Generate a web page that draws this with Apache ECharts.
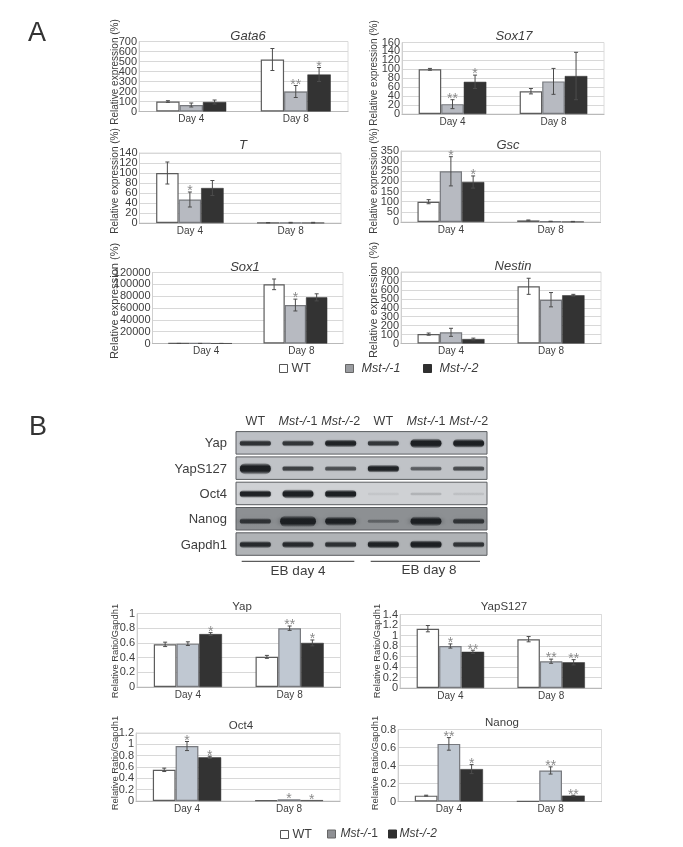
<!DOCTYPE html>
<html><head><meta charset="utf-8">
<style>html,body{margin:0;padding:0;background:#fff}#c{width:683px;height:847px}</style>
<script src="https://cdn.jsdelivr.net/npm/echarts@6/dist/echarts.min.js"></script>
</head><body><div id="c"></div>
<script>
// ---- data ----
const days = ['Day 4', 'Day 8'];
const gata6Wt = [100, 520], gata6M1 = [65, 200], gata6M2 = [95, 370];
const gata6ErrWt = [8, 110], gata6ErrM1 = [20, 60], gata6ErrM2 = [20, 70];
const sox17Wt = [100, 51], sox17M1 = [22, 73], sox17M2 = [72, 85];
const sox17ErrWt = [2, 6], sox17ErrM1 = [10, 29], sox17ErrM2 = [15, 53];
const tWt = [100, 0.6], tM1 = [47, 0.5], tM2 = [70, 0.5];
const tErrWt = [22, 0.4], tErrM1 = [15, 0.8], tErrM2 = [15, 0.8];
const gscWt = [100, 8], gscM1 = [250, 3], gscM2 = [197, 2];
const gscErrWt = [10, 2], gscErrM1 = [72, 1], gscErrM2 = [30, 1];
const sox1Wt = [100, 100000], sox1M1 = [100, 65000], sox1M2 = [100, 78000];
const sox1ErrWt = [50, 9000], sox1ErrM1 = [50, 10000], sox1ErrM2 = [50, 6000];
const nestinWt = [105, 640], nestinM1 = [125, 490], nestinM2 = [50, 540];
const nestinErrWt = [12, 90], nestinErrM1 = [45, 80], nestinErrM2 = [10, 10];
const yapWt = [0.58, 0.41], yapM1 = [0.59, 0.80], yapM2 = [0.72, 0.60];
const yapErrWt = [0.03, 0.02], yapErrM1 = [0.025, 0.03], yapErrM2 = [0.02, 0.04];
const yapsWt = [1.13, 0.93], yapsM1 = [0.80, 0.51], yapsM2 = [0.69, 0.49];
const yapsErrWt = [0.06, 0.05], yapsErrM1 = [0.04, 0.04], yapsErrM2 = [0.03, 0.05];
const oct4Wt = [0.55, 0.01], oct4M1 = [0.97, 0.03], oct4M2 = [0.77, 0.015];
const oct4ErrWt = [0.03, 0], oct4ErrM1 = [0.08, 0], oct4ErrM2 = [0.02, 0];
const nanogWt = [0.065, 0.005], nanogM1 = [0.64, 0.345], nanogM2 = [0.36, 0.065];
const nanogErrWt = [0.005, 0], nanogErrM1 = [0.07, 0.04], nanogErrM2 = [0.05, 0.005];
// tick labels
const gata6Ticks = ['0','100','200','300','400','500','600','700'];
const sox17Ticks = ['0','20','40','60','80','100','120','140','160'];
const tTicks = ['0','20','40','60','80','100','120','140'];
const gscTicks = ['0','50','100','150','200','250','300','350'];
const sox1Ticks = ['0','20000','40000','60000','80000','100000','120000'];
const nestinTicks = ['0','100','200','300','400','500','600','700','800'];
const yapTicks = ['0','0.2','0.4','0.6','0.8','1'];
const yapsTicks = ['0','0.2','0.4','0.6','0.8','1','1.2','1.4'];
const oct4Ticks = ['0','0.2','0.4','0.6','0.8','1','1.2'];
const nanogTicks = ['0','0.2','0.4','0.6','0.8'];
// significance marks: [day, group, mark]
const gata6Sig = [[1,1,'**'],[1,2,'*']];
const sox17Sig = [[0,1,'**'],[0,2,'*']];
const tSig = [[0,1,'*']];
const gscSig = [[0,1,'*'],[0,2,'*']];
const sox1Sig = [[1,1,'*']];
const nestinSig = [];
const yapSig = [[0,2,'*'],[1,1,'**'],[1,2,'*']];
const yapsSig = [[0,1,'*'],[0,2,'**'],[1,1,'**'],[1,2,'**']];
const oct4Sig = [[0,1,'*'],[0,2,'*'],[1,1,'*'],[1,2,'*']];
const nanogSig = [[0,1,'**'],[0,2,'*'],[1,1,'**'],[1,2,'**']];
// blot band strengths, one per lane
const blotLanes = ['WT','Mst-/-1','Mst-/-2','WT ','Mst-/-1 ','Mst-/-2 '];
const blotRows = ['Yap','YapS127','Oct4','Nanog','Gapdh1'];
const bandYap = [0.62, 0.6, 0.72, 0.6, 0.88, 0.82];
const bandYapS = [1, 0.55, 0.48, 0.72, 0.42, 0.5];
const bandOct4 = [0.72, 0.85, 0.78, 0.05, 0.12, 0.07];
const bandNanog = [0.6, 1, 0.85, 0.3, 0.88, 0.6];
const bandGapdh = [0.66, 0.66, 0.62, 0.72, 0.78, 0.6];

// ---- layout & style ----
const EXPR = 'Relative expression (%)', RATIO = 'Relative Ratio/Gapdh1';
const A_COL = ['#ffffff', '#b7bac1', '#333333'], B_COL = ['#ffffff', '#c0c8d2', '#333333'];
const charts = [
 {t:'Gata6',it:1,l:139,r:348,top:41.5,b:111.5,max:700,int:100,tk:gata6Ticks,tx:248,ty:37,nm:EXPR,nx:114,nc:72,nf:10,w:[gata6Wt,gata6M1,gata6M2],e:[gata6ErrWt,gata6ErrM1,gata6ErrM2],s:gata6Sig,c:A_COL},
 {t:'Sox17',it:1,l:402,r:604,top:42.5,b:114,max:160,int:20,tk:sox17Ticks,tx:514,ty:37,nm:EXPR,nx:373,nc:73,nf:10,w:[sox17Wt,sox17M1,sox17M2],e:[sox17ErrWt,sox17ErrM1,sox17ErrM2],s:sox17Sig,c:A_COL},
 {t:'T',it:1,l:139.5,r:341,top:153,b:223,max:140,int:20,tk:tTicks,tx:243,ty:146,nm:EXPR,nx:114,nc:181,nf:10,w:[tWt,tM1,tM2],e:[tErrWt,tErrM1,tErrM2],s:tSig,c:A_COL},
 {t:'Gsc',it:1,l:401,r:600.5,top:151,b:222,max:350,int:50,tk:gscTicks,tx:508,ty:146,nm:EXPR,nx:373,nc:181,nf:10,w:[gscWt,gscM1,gscM2],e:[gscErrWt,gscErrM1,gscErrM2],s:gscSig,c:A_COL},
 {t:'Sox1',it:1,l:152.5,r:343,top:272.5,b:343.5,max:120000,int:20000,tk:sox1Ticks,tx:245,ty:268,nm:EXPR,nx:114,nc:301,nf:11,lab:6,w:[sox1Wt,sox1M1,sox1M2],e:[sox1ErrWt,sox1ErrM1,sox1ErrM2],s:sox1Sig,c:A_COL},
 {t:'Nestin',it:1,l:401,r:601,top:272,b:343.5,max:800,int:100,tk:nestinTicks,tx:513,ty:267,nm:EXPR,nx:373,nc:300,nf:11,w:[nestinWt,nestinM1,nestinM2],e:[nestinErrWt,nestinErrM1,nestinErrM2],s:nestinSig,c:A_COL},
 {t:'Yap',l:137,r:340.5,top:613.5,b:687,max:1,int:0.2,tk:yapTicks,tx:242,ty:608,nm:RATIO,nx:114,nc:651,nf:9.4,w:[yapWt,yapM1,yapM2],e:[yapErrWt,yapErrM1,yapErrM2],s:yapSig,c:B_COL,bn:1},
 {t:'YapS127',l:400,r:601.5,top:614.5,b:688,max:1.4,int:0.2,tk:yapsTicks,tx:504,ty:608,nm:RATIO,nx:376,nc:651,nf:9.4,w:[yapsWt,yapsM1,yapsM2],e:[yapsErrWt,yapsErrM1,yapsErrM2],s:yapsSig,c:B_COL,bn:1},
 {t:'Oct4',l:136,r:340,top:733,b:801,max:1.2,int:0.2,tk:oct4Ticks,tx:241,ty:727,nm:RATIO,nx:114,nc:763,nf:9.4,w:[oct4Wt,oct4M1,oct4M2],e:[oct4ErrWt,oct4ErrM1,oct4ErrM2],s:oct4Sig,c:B_COL,bn:1},
 {t:'Nanog',l:398,r:601.5,top:729.5,b:801.5,max:0.8,int:0.2,tk:nanogTicks,tx:502,ty:724,nm:RATIO,nx:374,nc:763,nf:9.4,w:[nanogWt,nanogM1,nanogM2],e:[nanogErrWt,nanogErrM1,nanogErrM2],s:nanogSig,c:B_COL,bn:1}
];
const TXT = '#3d3d3d', FF = '"Liberation Sans", Arial, sans-serif';
const groupNames = ['WT','Mst-/-1','Mst-/-2'];
const grid=[], xAxis=[], yAxis=[], series=[], title=[];
const GAP = 33;   // category gap percent
charts.forEach((c,i)=>{
  grid.push({left:c.l,top:c.top,width:c.r-c.l,height:c.b-c.top,show:true,borderColor:'#dcdcdc',borderWidth:1,backgroundColor:'transparent'});
  xAxis.push({type:'category',gridIndex:i,data:days,axisTick:{show:false},
    axisLine:{lineStyle:{color:'#b9b9b9',width:1.2}},
    axisLabel:{color:TXT,fontSize:10,fontFamily:FF,margin:3,interval:0,padding:c.lab?[0,0,0,c.lab*2]:0}});
  const centreShift=(c.top+c.b)/2-c.nc;
  yAxis.push({type:'value',gridIndex:i,position:'left',min:0,max:c.max,interval:c.int,
    axisLine:{show:true,lineStyle:{color:'#cfcfcf'}},axisTick:{show:false},
    splitLine:{lineStyle:{color:'#d8d8d8',width:1.2}},
    axisLabel:{show:false},
    name:c.nm,nameLocation:'middle',nameRotate:90,nameGap:c.l-c.nx-6,nameMoveOverlap:false,
    nameTextStyle:{color:TXT,fontSize:c.nf,fontFamily:FF,padding:[0,0,0,centreShift*2]}});
  title.push({text:c.t,left:c.tx,top:c.ty-7,textAlign:'center',padding:0,
    textStyle:{color:TXT,fontSize:c.it?13:11.5,fontWeight:'normal',fontStyle:c.it?'italic':'normal',fontFamily:FF}});
  const sfx=c.bn?' ':'';
  c.w.forEach((vals,k)=>{
    series.push({type:'bar',name:groupNames[k]+sfx,xAxisIndex:i,yAxisIndex:i,data:vals,barGap:0,barCategoryGap:GAP+'%',
      animation:false,silent:true,
      itemStyle:{color:c.c[k],borderColor:k==2?'#333':(k==1?'#77797e':'#5c5c5c'),borderWidth:k==2?0.5:1.2}});
  });
  const rows=[];
  c.w.forEach((vals,k)=>vals.forEach((v,d)=>{
    const m=c.s.find(s=>s[0]==d&&s[1]==k);
    rows.push([d,k,v,c.e[k][d],m?m[2]:'']);
  }));
  series.push({type:'custom',xAxisIndex:i,yAxisIndex:i,data:rows,animation:false,silent:true,z:5,
    encode:{x:0,y:2},clip:false,
    renderItem:(p,api)=>{
      const d=api.value(0),k=api.value(1),v=api.value(2),e=api.value(3),m=rows[p.dataIndex][4];
      const band=api.size([1,0])[0], bw=band*(1-GAP/100)/3, off=(k-1)*bw;
      const x=api.coord([d,0])[0]+off, yT=api.coord([d,v+e])[1], yB=api.coord([d,Math.max(0,v-e)])[1];
      const kids=[];
      if(e>0){
        const st={stroke:'#4c4c4c',lineWidth:1};
        kids.push({type:'line',shape:{x1:x,y1:yT,x2:x,y2:yB},style:st});
        kids.push({type:'line',shape:{x1:x-2,y1:yT,x2:x+2,y2:yT},style:st});
        kids.push({type:'line',shape:{x1:x-2,y1:yB,x2:x+2,y2:yB},style:st});
      }
      if(m) kids.push({type:'text',style:{text:m,x:x,y:yT-0.5,align:'center',verticalAlign:'middle',
        fill:'#8a8a8a',fontSize:14,fontFamily:FF}});
      return {type:'group',children:kids};
    }});
});

// ---- western blot panel, on its own grid ----
const bi=charts.length;
const bands=[bandYap,bandYapS,bandOct4,bandNanog,bandGapdh];
const panelBg=['#bcbfc4','#c0c3c7','#cfd1d4','#8d9093','#b0b3b6'];
const laneRich=v=>{const s=v.trim(); return s==='WT'?'{n|WT}':'{i|'+s.slice(0,-1)+'}{n|'+s.slice(-1)+'}';};
grid.push({left:234,top:431.2,width:256,height:126.5});
xAxis.push({type:'category',gridIndex:bi,position:'top',data:blotLanes,axisLine:{show:false},axisTick:{show:false},
  axisLabel:{interval:0,margin:3,hideOverlap:false,formatter:laneRich,rich:{
    n:{fontSize:12.5,color:TXT,fontFamily:FF},i:{fontSize:12.5,color:TXT,fontStyle:'italic',fontFamily:FF}}}});
yAxis.push({type:'category',gridIndex:bi,inverse:true,data:blotRows,axisLine:{show:false},axisTick:{show:false},
  axisLabel:{interval:0,margin:7,color:TXT,fontSize:13,fontFamily:FF},splitLine:{show:false}});
series.push({type:'custom',xAxisIndex:bi,yAxisIndex:bi,animation:false,silent:true,z:2,
  data:blotRows.map((r,i)=>[0,i]),encode:{x:0,y:1},
  renderItem:(p,api)=>{
    const y=api.coord([0,api.value(1)])[1], cs=p.coordSys, h=api.size([0,1])[1];
    return {type:'rect',shape:{x:cs.x+2,y:y-h/2+0.4,width:cs.width-5,height:h-2.8},
      style:{fill:panelBg[api.value(1)],stroke:'#5a5d60',lineWidth:1}};
  }});
const bandData=[];
bands.forEach((row,r)=>row.forEach((v,l)=>bandData.push([l,r,v])));
series.push({type:'custom',xAxisIndex:bi,yAxisIndex:bi,animation:false,silent:true,z:3,
  data:bandData,encode:{x:0,y:1},
  renderItem:(p,api)=>{
    const c=api.coord([api.value(0),api.value(1)]), v=api.value(2), r=api.value(1);
    const th=3.5+7.5*v*v, w=r==3&&v>0.9?36:31, dy=r==3?2:0;
    const a=Math.min(1,v*1.35), col=al=>'rgba(24,27,30,'+al+')';
    return {type:'rect',shape:{x:c[0]-w/2,y:c[1]+dy-th/2-0.5,width:w,height:th,r:th/2},
      style:{fill:{type:'linear',x:0,y:0,x2:0,y2:1,colorStops:[
        {offset:0,color:col(a*0.15)},{offset:0.3,color:col(a*0.95)},{offset:0.7,color:col(a*0.95)},{offset:1,color:col(a*0.15)}]},
        shadowBlur:r==3?6:2,shadowColor:col(a*0.5)}};
  }});

// tick labels: a category axis on each grid shows every label, as the dense original does
charts.forEach((c,i)=>{
  yAxis.push({type:'category',gridIndex:i,position:'left',boundaryGap:false,data:c.tk,
    axisLine:{show:false},axisTick:{show:false},splitLine:{show:false},
    axisLabel:{interval:0,margin:2,hideOverlap:false,color:TXT,fontSize:11,fontFamily:FF}});
});

// ---- legends ----
const legRich={n:{fontSize:12.5,color:TXT,fontFamily:FF},i:{fontSize:12.5,color:TXT,fontStyle:'italic',fontFamily:FF},
  n2:{fontSize:12,color:TXT,fontFamily:FF},i2:{fontSize:12,color:TXT,fontStyle:'italic',fontFamily:FF}};
const L=(name,left,top,col,bd,fmt,gap)=>({data:[name],left,top,orient:'horizontal',padding:0,itemWidth:8,itemHeight:8,itemGap:0,selectedMode:false,
  icon:'rect',itemStyle:{color:col,borderColor:bd,borderWidth:1},formatter:()=>fmt,textStyle:{rich:legRich,padding:[0,0,0,gap]}});
const legend=[
  L('WT',279,362,'#fff','#555','{n|WT}',-1),
  L('Mst-/-1',345,362,'#9a9ca0','#666','{i|Mst-/-1}',3),
  L('Mst-/-2',423,362,'#2f2f2f','#2f2f2f','{i|Mst-/-2}',3),
  L('WT ',280,828,'#fff','#555','{n|WT}',-1),
  L('Mst-/-1 ',327,828,'#8f9094','#666','{i2|Mst-/-}{n2|1}',0),
  L('Mst-/-2 ',388,828,'#2f2f2f','#2f2f2f','{i2|Mst-/-2}',-2)
];
// panel letters
title.push({text:'A',left:28,top:20,padding:0,textStyle:{color:'#333',fontSize:27,fontWeight:'normal',fontFamily:FF}});
title.push({text:'B',left:29,top:414,padding:0,textStyle:{color:'#333',fontSize:27,fontWeight:'normal',fontFamily:FF}});
const graphic=[
  {type:'line',shape:{x1:241.7,y1:561.3,x2:354.3,y2:561.3},style:{stroke:'#333',lineWidth:1}},
  {type:'line',shape:{x1:370.7,y1:561.3,x2:480,y2:561.3},style:{stroke:'#333',lineWidth:1}},
  {type:'text',x:298,y:571,style:{text:'EB day 4',align:'center',verticalAlign:'middle',fill:TXT,fontSize:13.5,fontFamily:FF}},
  {type:'text',x:429,y:570,style:{text:'EB day 8',align:'center',verticalAlign:'middle',fill:TXT,fontSize:13.5,fontFamily:FF}}
];
const chart=echarts.init(document.getElementById('c'),null,{renderer:'canvas'});
chart.setOption({animation:false,backgroundColor:'#fff',title,grid,xAxis,yAxis,series,legend,graphic});
</script></body></html>
